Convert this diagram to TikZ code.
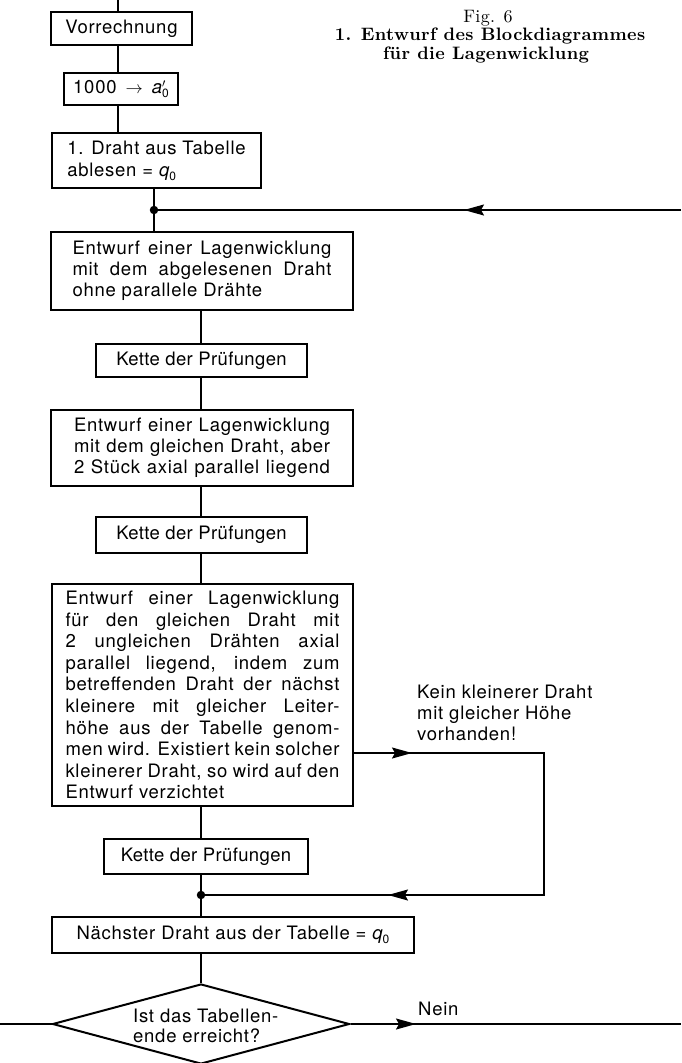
\documentclass[tikz,border=0pt]{standalone}
\usepackage{fontspec}
\setmainfont{TeX Gyre Heros}[LetterSpace=4]
\newfontfamily\titlefont{lmroman10}[Extension=.otf,UprightFont=*-regular,BoldFont=*-bold,ItalicFont=*-italic,LetterSpace=2]
\usetikzlibrary{arrows.meta,shapes.geometric,calc}
\newcommand\sbs[1]{\raisebox{-0.22em}{\fontsize{12}{12}\selectfont #1}}
\newcommand\qnull{{\itshape q}\sbs{0}}
\newcommand\jl[2]{\makebox[#1][s]{#2}}
\newcommand\kette{{\addfontfeatures{LetterSpace=2}Kette der Prüfungen}}
\tikzset{
  box/.style={draw, line width=2pt, inner sep=0pt, align=left,
    font=\fontsize{18.5}{20.8}\selectfont},
  conn/.style={line width=1.5pt},
  tiphead/.style={line width=1.5pt, -{Stealth[length=20pt,width=11pt,inset=3pt]}},
  dot/.style={circle, fill=black, inner sep=0pt, minimum size=8.5pt},
  lbl/.style={inner sep=0pt, align=left, font=\fontsize{18.5}{21.3}\selectfont},
  ttl/.style={inner sep=0pt, font=\titlefont\fontsize{18}{18}\selectfont}
}
\begin{document}
\begin{tikzpicture}[x=1pt,y=-1pt]
\useasboundingbox[fill=white] (0,0) rectangle (681,1063);

% title
\node[ttl, anchor=base] (t1) at (488,22) {Fig. 6};
\node[ttl, anchor=base] (t2) at (490,40.5) {\bfseries 1. Entwurf des Blockdiagrammes};
\node[ttl, anchor=base] (t3) at (486,59) {\bfseries für die Lagenwicklung};

% helper coordinates
\coordinate (top) at (118,0);
\coordinate (col) at (201,0);

% boxes
\node[box, minimum width=141, minimum height=33] (v) at (121.5,28.5) {Vorrechnung};
\node[box, minimum width=114, minimum height=32] (a) at (121,89)
  {1000\, $\rightarrow$\, {\itshape a}\rlap{$^{\prime}$}\sbs{0}};
\node[box, minimum width=209, minimum height=55, font=\fontsize{18.5}{22}\selectfont] (d1) at (156.5,160.5)
  {1. Draht aus Tabelle\\ablesen = \qnull};
\node[dot] (p1) at (154,210) {};
\node[box, minimum width=302, minimum height=78] (e1) at (202,271)
  {\jl{259pt}{Entwurf einer Lagenwicklung}\\\jl{259pt}{mit dem abgelesenen Draht}\\ohne parallele Drähte};
\node[box, minimum width=211, minimum height=33] (b5) at (201.5,360.5) {\kette};
\node[box, minimum width=302, minimum height=76] (e2) at (202,448)
  {\jl{256pt}{Entwurf einer Lagenwicklung}\\\jl{256pt}{mit dem gleichen Draht, aber}\\\jl{256pt}{2 Stück axial parallel liegend}};
\node[box, minimum width=211, minimum height=36] (b7) at (201.5,535) {\kette};
\node[box, minimum width=301, minimum height=222, font=\fontsize{18.5}{21.6}\selectfont] (b8) at (202.5,695)
  {\jl{274pt}{Entwurf einer Lagenwicklung}\\
   \jl{274pt}{für den gleichen Draht mit}\\
   \jl{274pt}{2 ungleichen Drähten axial}\\
   \jl{274pt}{parallel liegend, indem zum}\\
   \jl{274pt}{betreffenden Draht der nächst}\\
   \jl{274pt}{kleinere mit gleicher Leiter-}\\
   \jl{274pt}{höhe aus der Tabelle genom-}\\
   \jl{274pt}{men wird. Existiert kein solcher}\\
   \jl{274pt}{kleinerer Draht, so wird auf den}\\
   Entwurf verzichtet};
\node[box, minimum width=204, minimum height=35] (b9) at (206,856.5) {\kette};
\node[dot] (p2) at (201,895) {};
\node[box, minimum width=362, minimum height=36] (b10) at (233,935)
  {Nächster Draht aus der Tabelle = \qnull};
\node[draw, shape=diamond, line width=2pt, inner sep=0pt,
  minimum width=297, minimum height=80] (dm) at (201,1024) {};
\node[lbl, anchor=north west, font=\fontsize{18.5}{20.5}\selectfont] (dmt) at (133,1008.5)
  {Ist das Tabellen-\\ende erreicht?};

% side labels
\node[lbl, anchor=north west] (kein) at (417,684.5)
  {Kein kleinerer Draht\\mit gleicher Höhe\\vorhanden!};
\node[lbl, anchor=base west] (nein) at (418,1015) {Nein};

% connector coordinates
\coordinate (r1) at (681,210);
\coordinate (r1t) at (464,210);
\coordinate (k1) at (412,753);
\coordinate (k2) at (544,753);
\coordinate (k3) at (544,895);
\coordinate (k4) at (388,895);
\coordinate (lft) at (0,1024);
\coordinate (n1) at (416,1024);
\coordinate (rgt) at (681,1024);

% connectors
\draw[conn] (top) -- (v.north -| top);
\draw[conn] (v.south -| top) -- (a.north -| top);
\draw[conn] (a.south -| top) -- (d1.north -| top);
\draw[conn] (d1.south -| p1) -- (p1) -- (e1.north -| p1);
\draw[conn] (r1) -- (p1);
\draw[conn] (e1.south -| col) -- (b5.north -| col);
\draw[conn] (b5.south -| col) -- (e2.north -| col);
\draw[conn] (e2.south -| col) -- (b7.north -| col);
\draw[conn] (b7.south -| col) -- (b8.north -| col);
\draw[conn] (b8.south -| col) -- (b9.north -| col);
\draw[conn] (b9.south -| col) -- (p2) -- (b10.north -| col);
\draw[conn] (b10.south -| col) -- (dm.north);
\draw[conn] (b8.east |- k1) -- (k2) -- (k3) -- (p2);
\draw[conn] (dm.west) -- (lft);
\draw[conn] (dm.east) -- (rgt);

% arrowheads laid over the lines
\draw[tiphead] ($(r1t)+(30,0)$) -- (r1t);
\draw[tiphead] ($(k1)-(30,0)$) -- (k1);
\draw[tiphead] ($(k4)+(30,0)$) -- (k4);
\draw[tiphead] ($(n1)-(30,0)$) -- (n1);
\end{tikzpicture}
\end{document}
